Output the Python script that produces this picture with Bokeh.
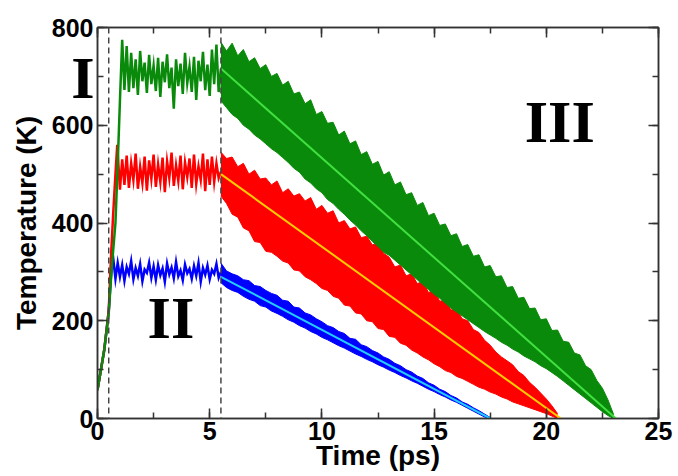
import numpy as np
from bokeh.plotting import figure
from bokeh.models import Range1d, LinearAxis, SingleIntervalTicker, FixedTicker, Span, Label
from bokeh.embed import file_html
from bokeh.resources import INLINE

# ---------------- data ----------------
# heating ramps (time ps, temperature K)
blue_heat_t = [0.0, 0.3, 0.5, 0.6, 0.68]
blue_heat_T = [58, 140, 220, 290, 336]
red_heat_t = [0.0, 0.3, 0.5, 0.6, 0.7, 0.8, 0.88]
red_heat_T = [58, 140, 220, 330, 420, 500, 560]
green_heat_t = [0.0, 0.3, 0.5, 0.6, 0.7, 0.8, 0.9, 1.0, 1.1]
green_heat_T = [58, 140, 215, 285, 345, 400, 520, 650, 775]

# equilibration plateaus, sampled every 0.1 ps
blue_plat_start = 0.8
blue_plat_T = [286, 318, 290, 314, 282, 310, 296, 322, 285, 308,
               292, 316, 281, 305, 298, 319, 288, 311, 284, 314,
               293, 307, 280, 317, 295, 309, 287, 320, 291, 303,
               283, 315, 297, 306, 286, 312, 292, 318, 280, 308,
               294, 313, 285, 304, 296, 316, 288, 300]
red_plat_start = 1.0
red_plat_T = [468, 530, 478, 538, 472, 522, 488, 542, 470, 515,
              482, 536, 466, 528, 490, 540, 474, 520, 484, 534,
              463, 526, 492, 544, 476, 518, 486, 538, 469, 524,
              494, 532, 472, 540, 480, 516, 488, 542, 465, 530,
              478, 536, 484, 522, 492, 505]
green_plat_start = 1.2
green_plat_T = [672, 762, 668, 748, 676, 735, 662, 752, 690, 728,
                666, 744, 684, 722, 670, 738, 658, 730, 688, 745,
                676, 718, 634, 735, 680, 726, 664, 748, 686, 720,
                668, 740, 652, 732, 690, 750, 672, 724, 660, 755,
                684, 765, 668, 716]
plat_step = 0.1

# cooling phase: upper / lower envelopes of the noisy band, every 0.25 ps from 5.5 ps
cool_start = 5.5
cool_step = 0.25
blue_cool_hi = [318, 302, 296, 292, 284, 282, 272, 270, 262, 256,
                252, 242, 240, 228, 226, 216, 212, 204, 198, 190,
                186, 178, 174, 164, 162, 151, 147, 139, 134, 126,
                121, 113, 108, 100, 95, 87, 82, 73, 68, 60,
                55, 47, 42, 34, 29, 22, 16, 9, 2]
blue_cool_lo = [278, 268, 262, 258, 250, 244, 240, 231, 228, 220,
                215, 209, 202, 197, 190, 185, 178, 173, 166, 161,
                155, 149, 144, 138, 132, 127, 121, 116, 110, 105,
                99, 94, 88, 83, 77, 72, 66, 60, 55, 49,
                44, 38, 33, 27, 21, 15, 9, 3, 0]
red_cool_hi = [545, 532, 535, 515, 522, 500, 508, 490, 492, 478,
               486, 462, 470, 455, 460, 445, 452, 428, 436, 420,
               425, 400, 405, 388, 392, 370, 373, 355, 360, 338,
               330, 310, 314, 292, 296, 276, 280, 258, 262, 240,
               242, 222, 224, 204, 200, 182, 176, 160, 150, 136,
               126, 118, 110, 96, 88, 74, 64, 52, 40, 26, 10]
red_cool_lo = [455, 440, 418, 412, 390, 384, 362, 360, 342, 340,
               332, 322, 318, 304, 302, 290, 284, 276, 266, 262,
               250, 246, 232, 230, 216, 214, 200, 198, 184, 182,
               168, 166, 154, 150, 140, 134, 126, 120, 112, 106,
               98, 94, 86, 82, 76, 70, 64, 60, 54, 50,
               44, 40, 34, 30, 26, 22, 18, 14, 10, 5, 0]
green_cool_hi = [770, 752, 768, 742, 755, 730, 738, 716, 724, 700,
                 706, 682, 690, 664, 668, 644, 652, 622, 628, 604,
                 606, 580, 588, 562, 568, 540, 546, 520, 526, 498,
                 505, 478, 484, 458, 462, 436, 442, 415, 420, 395,
                 398, 374, 378, 352, 356, 332, 335, 310, 313, 290,
                 292, 268, 270, 246, 248, 225, 226, 202, 204, 180,
                 181, 158, 156, 134, 130, 108, 100, 78, 62, 38, 8]
green_cool_lo = [650, 636, 622, 614, 600, 592, 580, 572, 562, 552,
                 544, 534, 524, 512, 504, 490, 482, 470, 462, 448,
                 440, 428, 418, 406, 396, 384, 374, 362, 352, 340,
                 334, 324, 314, 304, 294, 284, 274, 264, 254, 246,
                 236, 226, 218, 210, 202, 194, 186, 178, 171, 164,
                 156, 150, 142, 136, 128, 122, 116, 108, 102, 94,
                 86, 77, 68, 59, 50, 41, 32, 23, 14, 6, 0]

# linear fits of the cooling phase
fit_blue_t = [5.5, 17.5]
fit_blue_T = [290, 0]
fit_red_t = [5.5, 20.65]
fit_red_T = [500, 0]
fit_green_t = [5.5, 23.1]
fit_green_T = [716, 0]

phase_bounds = [0.5, 5.5]
x_tick_interval = 5
y_tick_interval = 200
region_names = ["I", "II", "III"]

# ---------------- figure ----------------
FONT = "Liberation Sans"
SERIF = "Liberation Serif"
FRAME = "#333333"

p = figure(width=678, height=476, x_range=Range1d(0, 25), y_range=Range1d(0, 800),
           output_backend="svg", toolbar_location=None,
           min_border_left=97, min_border_right=20, min_border_top=27, min_border_bottom=58,
           background_fill_color="white", border_fill_color="white")
p.grid.visible = False
p.outline_line_color = FRAME
p.outline_line_width = 1.5

xt = SingleIntervalTicker(interval=x_tick_interval, num_minor_ticks=2)
yt = SingleIntervalTicker(interval=y_tick_interval, num_minor_ticks=2)


def tick_style(ax):
    ax.axis_line_color = FRAME
    ax.axis_line_width = 1.5
    ax.major_tick_line_color = FRAME
    ax.major_tick_line_width = 1.5
    ax.minor_tick_line_color = FRAME
    ax.minor_tick_line_width = 1.5
    ax.major_tick_in = 10
    ax.major_tick_out = 0
    ax.minor_tick_in = 6
    ax.minor_tick_out = 0


def hide_labels(ax):
    ax.major_label_text_color = None
    ax.major_label_text_font_size = "1px"
    ax.major_label_standoff = 0


def no_ticks(ax):
    ax.axis_line_color = None
    ax.major_tick_line_color = None
    ax.minor_tick_line_color = None
    ax.major_tick_in = 0
    ax.major_tick_out = 0
    ax.minor_tick_in = 0
    ax.minor_tick_out = 0


# bottom axis: ticks + labels
xa = p.xaxis[0]
xa.ticker = xt
tick_style(xa)
xa.axis_label = "Time (ps)"
xa.major_label_text_font = FONT
xa.major_label_text_font_style = "bold"
xa.major_label_text_font_size = "25px"
xa.major_label_text_color = "black"
xa.axis_label_text_font = FONT
xa.axis_label_text_font_style = "bold"
xa.axis_label_text_font_size = "28px"
xa.axis_label_text_color = "black"
xa.major_label_standoff = 3
xa.axis_label_standoff = -3

# left: inner axis draws the frame ticks only
ya = p.yaxis[0]
ya.ticker = yt
tick_style(ya)
hide_labels(ya)

# left: region label "I" (sits in the tick-label column)
region_ax = LinearAxis(ticker=FixedTicker(ticks=[696], minor_ticks=[]),
                       major_label_overrides={696: region_names[0]})
no_ticks(region_ax)
region_ax.major_label_text_font = SERIF
region_ax.major_label_text_font_style = "bold"
region_ax.major_label_text_font_size = "60px"
region_ax.major_label_text_color = "black"
region_ax.major_label_standoff = 3
p.add_layout(region_ax, "left")

# left: numeric labels + axis title
num_ax = LinearAxis(ticker=yt, axis_label="Temperature (K)")
no_ticks(num_ax)
num_ax.major_label_text_font = FONT
num_ax.major_label_text_font_style = "bold"
num_ax.major_label_text_font_size = "25px"
num_ax.major_label_text_color = "black"
num_ax.axis_label_text_font = FONT
num_ax.axis_label_text_font_style = "bold"
num_ax.axis_label_text_font_size = "28px"
num_ax.axis_label_text_color = "black"
num_ax.major_label_standoff = -25
num_ax.axis_label_standoff = 7
p.add_layout(num_ax, "left")

# mirrored ticks on top and right
top_ax = LinearAxis(ticker=xt)
right_ax = LinearAxis(ticker=yt)
for ax in (top_ax, right_ax):
    tick_style(ax)
    hide_labels(ax)
p.add_layout(top_ax, "above")
p.add_layout(right_ax, "right")

series = [
    ("#0000ff", blue_heat_t, blue_heat_T, blue_plat_start, blue_plat_T, blue_cool_hi, blue_cool_lo),
    ("#ff0000", red_heat_t, red_heat_T, red_plat_start, red_plat_T, red_cool_hi, red_cool_lo),
    ("#0a8a0a", green_heat_t, green_heat_T, green_plat_start, green_plat_T, green_cool_hi, green_cool_lo),
]

for color, ht, hT, ps, pT, chi, clo in series:
    pt = list(ps + plat_step * np.arange(len(pT)))
    p.line(list(ht) + pt, list(hT) + list(pT), line_color=color, line_width=2.5,
           line_join="miter")
    ct = cool_start + cool_step * np.arange(len(chi))
    p.varea(x=ct, y1=clo, y2=chi, fill_color=color, fill_alpha=1.0)
    p.line(ct, chi, line_color=color, line_width=1)
    p.line(ct, clo, line_color=color, line_width=1)

p.line(fit_blue_t, fit_blue_T, line_color="#22ccff", line_width=2)
p.line(fit_red_t, fit_red_T, line_color="#ffcc00", line_width=2)
p.line(fit_green_t, fit_green_T, line_color="#40e040", line_width=2)

for b in phase_bounds:
    p.add_layout(Span(location=b, dimension="height", line_color="#444444",
                      line_width=1.5, line_dash="6 4"))

# region labels II and III (placed at their visual centres)
for txt, x, y in [(region_names[1], 3.27, 205), (region_names[2], 20.6, 607)]:
    p.add_layout(Label(x=x, y=y, text=txt, text_align="center", text_baseline="alphabetic",
                       text_font=SERIF, text_font_style="bold",
                       text_font_size="60px", text_color="black"))

open("out.html", "w").write(file_html(p, INLINE))
